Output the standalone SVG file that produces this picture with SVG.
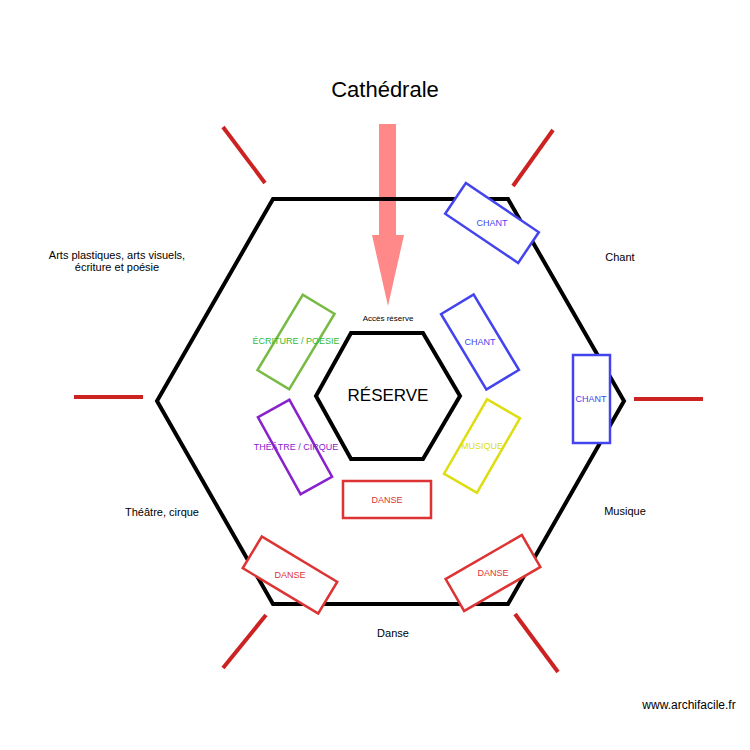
<svg xmlns="http://www.w3.org/2000/svg" width="750" height="750" viewBox="0 0 750 750">
<style>
text{font-family:"Liberation Sans",Arial,sans-serif;text-anchor:middle}
.hex{fill:none;stroke:#000;stroke-width:4}
.ray{stroke:#cc2222;stroke-width:4}
.r{fill:#fff;stroke-width:2.5}
.l{font-size:9px}
.lab{font-size:11px;fill:#000}
</style>
<rect width="750" height="750" fill="#fff"/>
<g id="connectors">
<line class="ray" x1="223" y1="127" x2="265" y2="183"/>
<line class="ray" x1="513" y1="186" x2="553" y2="130"/>
<line class="ray" x1="74" y1="397" x2="143" y2="397"/>
<line class="ray" x1="634" y1="399" x2="703" y2="399"/>
<line class="ray" x1="223" y1="668" x2="266" y2="615"/>
<line class="ray" x1="515" y1="614" x2="558" y2="672"/>
<polygon points="379,124 396,124 396,235 404,235 388,306 372,235 379,235" fill="#ff8888"/>
</g>
<g id="outer"><polygon class="hex" points="273,199 508,199 624,401 508,604 273,604 157,401"/></g>
<g id="reserve"><polygon class="hex" points="351,333 423,333 460,396 423,459 351,459 316,396"/>
<text x="388" y="401" font-size="17">RÉSERVE</text></g>
<g id="ecriture"><rect class="r" stroke="#77bb44" x="-18.5" y="-44" width="37" height="88" transform="translate(296,342) rotate(31)"/><text class="l" x="296" y="344" fill="#33bb33">ÉCRITURE / POESIE</text></g>
<g id="theatre"><rect class="r" stroke="#8822cc" x="-18" y="-44" width="36" height="88" transform="translate(295,447) rotate(-29)"/><text class="l" x="296" y="450" fill="#8822cc">THÉÂTRE / CIRQUE</text></g>
<g id="chant1"><rect class="r" stroke="#4444ee" x="-19" y="-44" width="38" height="88" transform="translate(480,342) rotate(-31)"/><text class="l" x="480" y="345" fill="#4444ee">CHANT</text></g>
<g id="musique"><rect class="r" stroke="#dddd11" x="-19" y="-43" width="38" height="86" transform="translate(482,446) rotate(30)"/><text class="l" x="482" y="449" fill="#dddd11">MUSIQUE</text></g>
<g id="danse1"><rect class="r" stroke="#dd3333" x="343" y="481" width="88" height="37"/><text class="l" x="387" y="503" fill="#dd3333">DANSE</text></g>
<g id="chant2"><rect class="r" stroke="#4444ee" x="-44" y="-18.5" width="88" height="37" transform="translate(492,223) rotate(34)"/><text class="l" x="492" y="226" fill="#4444ee">CHANT</text></g>
<g id="chant3"><rect class="r" stroke="#4444ee" x="573" y="355" width="37" height="88"/><text class="l" x="591" y="402" fill="#4444ee">CHANT</text></g>
<g id="danse2"><rect class="r" stroke="#dd3333" x="-44" y="-18.5" width="88" height="37" transform="translate(290,575) rotate(31)"/><text class="l" x="290" y="578" fill="#dd3333">DANSE</text></g>
<g id="danse3"><rect class="r" stroke="#dd3333" x="-44" y="-18.5" width="88" height="37" transform="translate(493,573) rotate(-30)"/><text class="l" x="493" y="576" fill="#dd3333">DANSE</text></g>
<g id="labels">
<text x="385" y="97" font-size="22">Cathédrale</text>
<text x="388" y="321" font-size="8">Accès réserve</text>
<text class="lab" x="117" y="259">Arts plastiques, arts visuels,</text>
<text class="lab" x="117" y="271">écriture et poésie</text>
<text class="lab" x="620" y="261">Chant</text>
<text class="lab" x="625" y="515">Musique</text>
<text class="lab" x="162" y="516">Théâtre, cirque</text>
<text class="lab" x="393" y="637">Danse</text>
<text x="689" y="709" font-size="12">www.archifacile.fr</text>
</g>
</svg>
